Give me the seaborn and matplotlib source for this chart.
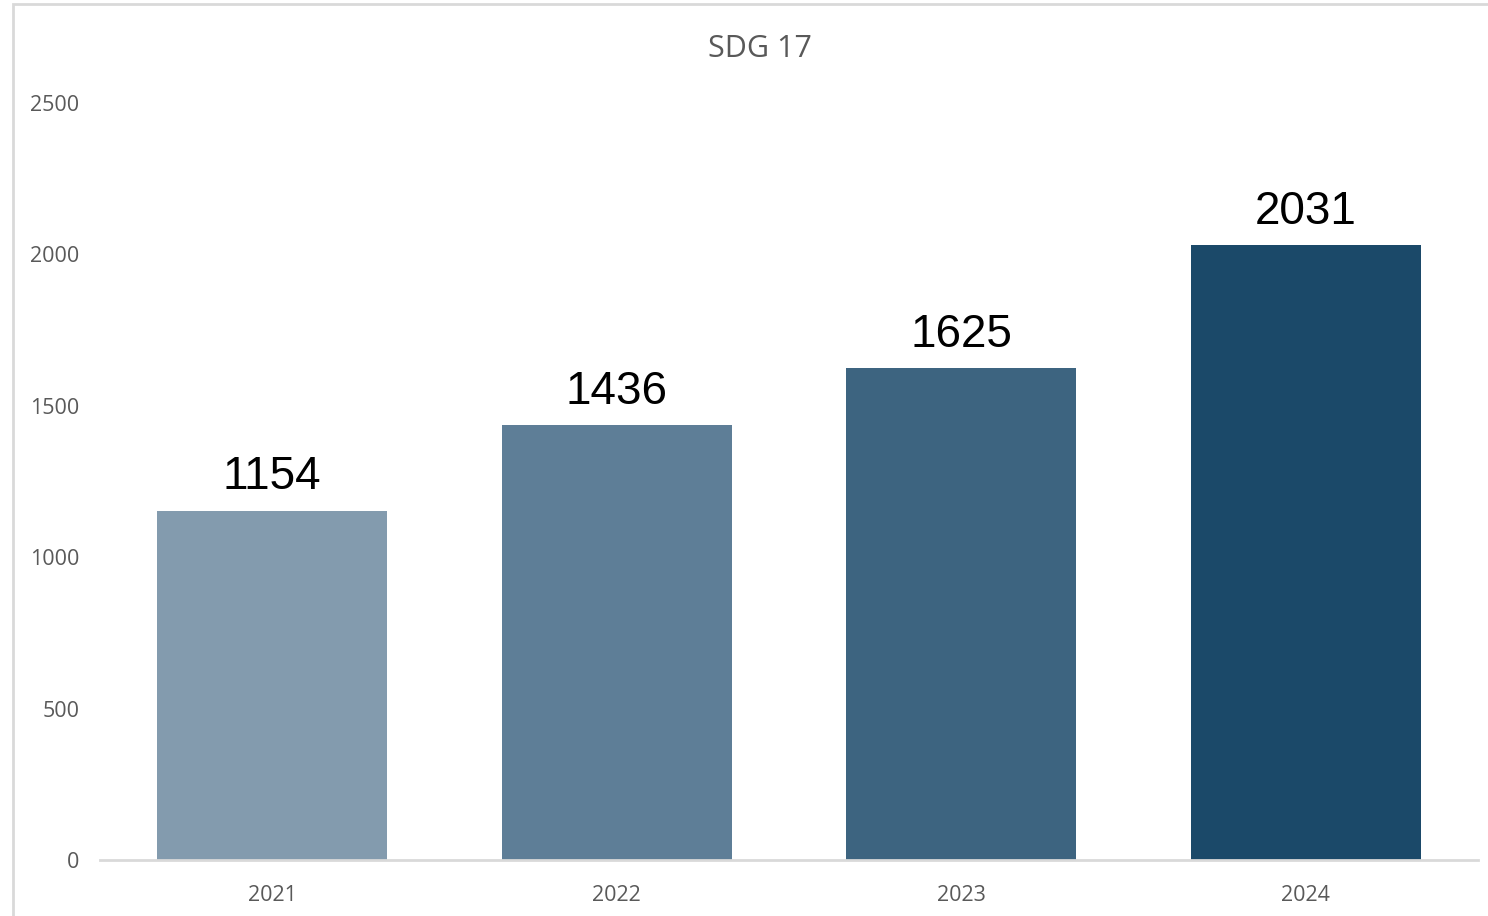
import matplotlib
matplotlib.use("Agg")
import matplotlib.pyplot as plt
import pandas as pd
import seaborn as sns
from matplotlib.patches import Rectangle

years = ["2021", "2022", "2023", "2024"]
counts = [1154, 1436, 1625, 2031]
bar_colors = ["#839BAE", "#5E7E97", "#3D6480", "#1B4969"]
y_ticks = [0, 500, 1000, 1500, 2000, 2500]
title = "SDG 17"

sns.set_theme(style="white")
plt.rcParams["font.family"] = ["Open Sans", "DejaVu Sans"]

df = pd.DataFrame({"year": years, "count": counts})

fig = plt.figure(figsize=(14.88, 9.16), dpi=100)
ax = fig.add_axes([100 / 1488, 56 / 916, 1378 / 1488, 757 / 916])

sns.barplot(
    data=df,
    x="year",
    y="count",
    hue="year",
    palette=bar_colors,
    legend=False,
    width=0.667,
    saturation=1,
    linewidth=0,
    ax=ax,
)

ax.set_xlim(-0.5, 3.5)
ax.set_ylim(0, 2500)
ax.set_yticks(y_ticks)
ax.set_xlabel("")
ax.set_ylabel("")
for side in ["top", "right", "left"]:
    ax.spines[side].set_visible(False)
ax.spines["bottom"].set_color("#D9D9D9")
ax.spines["bottom"].set_linewidth(2)
ax.tick_params(axis="both", length=0, labelsize=15.5, labelcolor="#595959")
ax.tick_params(axis="y", pad=15)
ax.tick_params(axis="x", pad=18)

for container in ax.containers:
    ax.bar_label(container, fmt="%d", padding=8, fontsize=33,
                 color="black", family=["Liberation Sans", "DejaVu Sans"])

fig.text(760 / 1488, 1 - 49 / 916, title, ha="center", va="center",
         fontsize=22, color="#595959")

# light frame around the chart area
fig.patches.append(Rectangle((13 / 1488, -0.05), 1.1, 1 - 4 / 916 + 0.05,
                             transform=fig.transFigure, fill=False,
                             edgecolor="#D9D9D9", linewidth=2))

fig.savefig("out.png", dpi=100)
plt.close(fig)
